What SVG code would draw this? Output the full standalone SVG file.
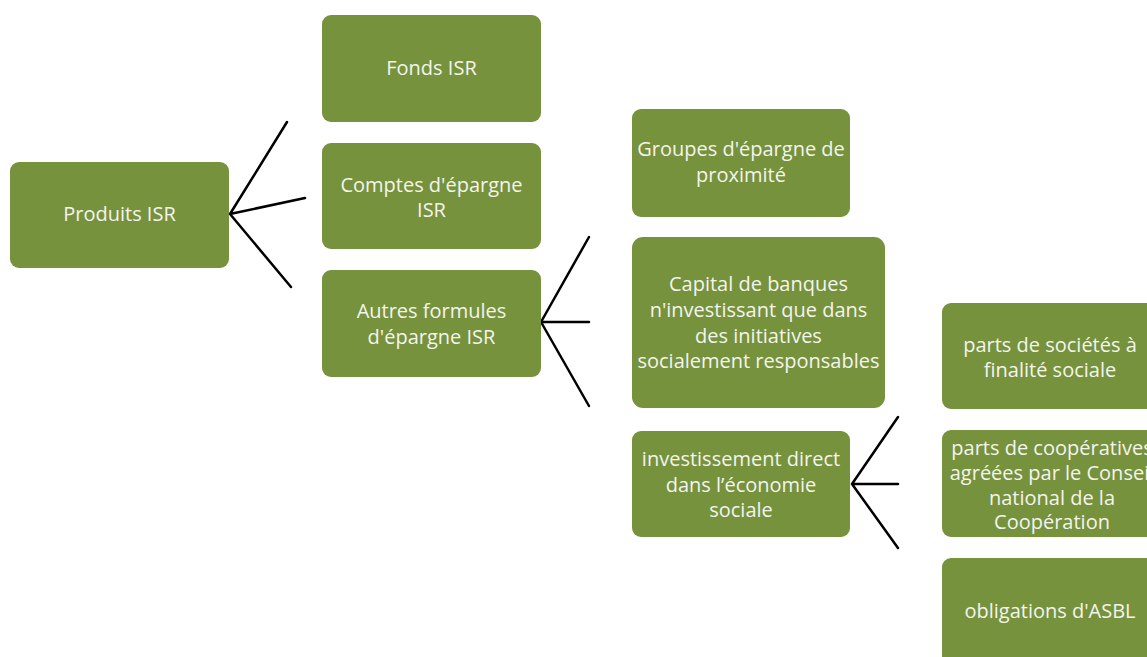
<svg xmlns="http://www.w3.org/2000/svg" width="1147" height="657" viewBox="0 0 1147 657">
<style>
.box{fill:#76923c;}
.t{font-family:"Open Sans","Liberation Sans",sans-serif;font-size:20px;fill:#f4f4ee;text-anchor:middle;}
.c{stroke:#000;stroke-width:2.5;fill:none;stroke-linecap:round;}
</style>
<rect width="1147" height="657" fill="#ffffff"/>
<g id="connectors">
<path class="c" d="M230,214 L287,122 M230,214 L305,198 M230,214 L291,287"/>
<path class="c" d="M541,322 L589,237 M541,322 L589,322 M541,322 L589,406"/>
<path class="c" d="M852,484 L898,417 M852,484 L898,484 M852,484 L898,548"/>
</g>
<g id="n-produits"><rect class="box" x="10" y="162" width="219" height="106" rx="9"/><text class="t" x="119.5" y="221">Produits ISR</text></g>
<g id="n-fonds"><rect class="box" x="322" y="15" width="219" height="107" rx="9"/><text class="t" x="431.5" y="75">Fonds ISR</text></g>
<g id="n-comptes"><rect class="box" x="322" y="143" width="219" height="106" rx="9"/><text class="t" x="431.5" y="192">Comptes d'épargne</text><text class="t" x="431.5" y="217">ISR</text></g>
<g id="n-autres"><rect class="box" x="322" y="270" width="219" height="107" rx="9"/><text class="t" x="431.5" y="318">Autres formules</text><text class="t" x="431.5" y="344">d'épargne ISR</text></g>
<g id="n-groupes"><rect class="box" x="632" y="109" width="218" height="108" rx="9"/><text class="t" x="741" y="156">Groupes d'épargne de</text><text class="t" x="741" y="182">proximité</text></g>
<g id="n-capital"><rect class="box" x="632" y="237" width="253" height="171" rx="11"/><text class="t" x="758.5" y="291">Capital de banques</text><text class="t" x="758.5" y="317">n'investissant que dans</text><text class="t" x="758.5" y="343">des initiatives</text><text class="t" x="758.5" y="368">socialement responsables</text></g>
<g id="n-invest"><rect class="box" x="632" y="431" width="218" height="106" rx="9"/><text class="t" x="741" y="466">investissement direct</text><text class="t" x="741" y="492">dans l’économie</text><text class="t" x="741" y="517">sociale</text></g>
<g id="n-societes"><rect class="box" x="942" y="303" width="216" height="106" rx="9"/><text class="t" x="1050" y="352">parts de sociétés à</text><text class="t" x="1050" y="377">finalité sociale</text></g>
<g id="n-coop"><rect class="box" x="942" y="430" width="216" height="107" rx="9"/><text class="t" x="1052" y="455">parts de coopératives</text><text class="t" x="1052" y="480">agréées par le Conseil</text><text class="t" x="1052" y="505">national de la</text><text class="t" x="1052" y="529">Coopération</text></g>
<g id="n-asbl"><rect class="box" x="942" y="558" width="216" height="107" rx="9"/><text class="t" x="1050" y="618">obligations d'ASBL</text></g>
</svg>
